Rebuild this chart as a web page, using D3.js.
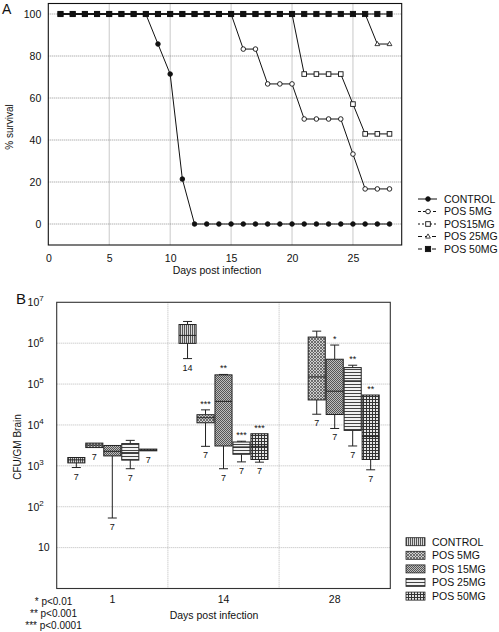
<!DOCTYPE html>
<html><head><meta charset="utf-8">
<script src="https://cdn.jsdelivr.net/npm/d3@7"></script>
<style>
body{margin:0;background:#fff}
text{font-family:"Liberation Sans",Arial,Helvetica,sans-serif;fill:#111}
</style>
</head><body><svg id="c" width="499" height="632"></svg>
<script>
// ---------- Panel A data ----------
const daysA = [1,2,3,4,5,6,7,8,9,10,11,12,13,14,15,16,17,18,19,20,21,22,23,24,25,26,27,28];
const survControl = [100,100,100,100,100,100,100,100,85.7,71.4,21.4,0,0,0,0,0,0,0,0,0,0,0,0,0,0,0,0,0];
const survPos5   = [100,100,100,100,100,100,100,100,100,100,100,100,100,100,100,83.3,83.3,66.7,66.7,66.7,50,50,50,50,33.3,16.7,16.7,16.7];
const survPos15  = [100,100,100,100,100,100,100,100,100,100,100,100,100,100,100,100,100,100,100,100,71.4,71.4,71.4,71.4,57.1,42.9,42.9,42.9];
const survPos25  = [100,100,100,100,100,100,100,100,100,100,100,100,100,100,100,100,100,100,100,100,100,100,100,100,100,100,85.7,85.7];
const survPos50  = [100,100,100,100,100,100,100,100,100,100,100,100,100,100,100,100,100,100,100,100,100,100,100,100,100,100,100,100];
const seriesNamesA = ["CONTROL","POS 5MG","POS15MG","POS 25MG","POS 50MG"];
const xTicksA = [0,5,10,15,20,25];
const yTicksA = [0,20,40,60,80,100];

// ---------- Panel B data ----------
const daysB = ["1","14","28"];
const groupsB = ["CONTROL","POS 5MG","POS 15MG","POS 25MG","POS 50MG"];
// [min, q1, median, q3, max]
const day1Stats  = [[910,1180,1400,1600,1600],[2800,2800,3200,3600,3600],[53,1750,2270,3150,3150],[850,1380,2100,3500,4200],[2330,2330,2450,2570,2570]];
const day14Stats = [[420000,990000,1550000,2860000,3400000],[3000,11300,15000,17800,23400],[850,3060,37800,168000,172000],[1250,1920,2900,3830,4000],[1230,1430,3000,6100,6100]];
const day28Stats = [null,[18300,40900,150000,1410000,1970000],[8200,18000,67000,405000,900000],[3060,7360,120000,253000,289000],[800,1430,5200,54000,54000]];
const day1N  = [7,7,7,7,7];
const day14N = [14,7,7,7,7];
const day28N = [null,7,7,7,7];
const day1Sig  = ["","","","",""];
const day14Sig = ["","***","**","***","***"];
const day28Sig = ["","","*","**","**"];
const yTicksB = [10,100,1000,10000,100000,1000000,10000000];
const footnotes = ["* p<0.01","** p<0.001","*** p<0.0001"];

const svg = d3.select("#c");
const defs = svg.append("defs");

// ---------- patterns ----------
function pat(id, size, bg, draw){
  const p = defs.append("pattern").attr("id",id).attr("patternUnits","userSpaceOnUse")
    .attr("width",size).attr("height",size);
  p.append("rect").attr("width",size).attr("height",size).attr("fill",bg);
  draw(p);
}
pat("pControl",2,"#d8d8d8",p=>p.append("rect").attr("x",0).attr("y",0).attr("width",1).attr("height",2).attr("fill","#555"));
pat("p5",3,"#cfcfcf",p=>{p.append("path").attr("d","M0,0L3,3M3,0L0,3").attr("stroke","#555").attr("stroke-width",0.8);});
pat("p15",2,"#bdbdbd",p=>{p.append("rect").attr("width",1).attr("height",1).attr("fill","#555");p.append("rect").attr("x",1).attr("y",1).attr("width",1).attr("height",1).attr("fill","#555");});
pat("p25",3,"#f2f2f2",p=>p.append("rect").attr("x",0).attr("y",0).attr("width",3).attr("height",1).attr("fill","#444"));
pat("p50",3,"#e6e6e6",p=>{p.append("rect").attr("width",3).attr("height",1).attr("fill","#333");p.append("rect").attr("width",1).attr("height",3).attr("fill","#333");});
const fillsB = ["url(#pControl)","url(#p5)","url(#p15)","url(#p25)","url(#p50)"];

// ================= PANEL A =================
const A = {l:48.3, r:401.7, t:3.5, b:245};
const xA = d3.scaleLinear().domain([0,29]).range([A.l,A.r]);
const yA = d3.scaleLinear().domain([-10,105]).range([A.b,A.t]);
const gA = svg.append("g");

// grid
gA.selectAll(".gx").data(xTicksA.filter(d=>d>0)).join("line")
  .attr("x1",d=>xA(d)).attr("x2",d=>xA(d)).attr("y1",A.t).attr("y2",A.b)
  .attr("stroke","#777").attr("stroke-width",0.8).attr("stroke-dasharray","1,1");
gA.selectAll(".gy").data(yTicksA).join("line")
  .attr("x1",A.l).attr("x2",A.r).attr("y1",d=>yA(d)).attr("y2",d=>yA(d))
  .attr("stroke","#777").attr("stroke-width",0.8).attr("stroke-dasharray","1,1");
gA.append("rect").attr("x",A.l).attr("y",A.t).attr("width",A.r-A.l).attr("height",A.b-A.t)
  .attr("fill","none").attr("stroke","#111").attr("stroke-width",1.1);

// axes (labels only)
const axXA = gA.append("g").attr("transform",`translate(0,${A.b})`)
  .call(d3.axisBottom(xA).tickValues(xTicksA).tickSize(0).tickPadding(10));
axXA.select(".domain").remove();
axXA.selectAll("text").attr("font-size",10.5).attr("font-family","Liberation Sans, Arial, sans-serif").attr("fill","#111");
const axYA = gA.append("g").attr("transform",`translate(${A.l},0)`)
  .call(d3.axisLeft(yA).tickValues(yTicksA).tickSize(0).tickPadding(7));
axYA.select(".domain").remove();
axYA.selectAll("text").attr("font-size",10.5).attr("font-family","Liberation Sans, Arial, sans-serif").attr("fill","#111");

gA.append("text").attr("x",217).attr("y",274).attr("text-anchor","middle").attr("font-size",10.5).text("Days post infection");
gA.append("text").attr("transform","translate(13,127) rotate(-90)").attr("text-anchor","middle").attr("font-size",10).text("% survival");
gA.append("text").attr("x",2).attr("y",14).attr("font-size",14).text("A");

const seriesA = [survControl,survPos5,survPos15,survPos25,survPos50];
const line = d3.line().x((d,i)=>xA(daysA[i])).y(d=>yA(d));
const markers = [
  {type:"circle", fill:"#111"},
  {type:"circle", fill:"#fff"},
  {type:"square", fill:"#fff", size:4.6},
  {type:"triangle", fill:"#fff"},
  {type:"square", fill:"#111", size:5.2}
];
function drawMarker(g, m, x, y){
  if(m.type==="circle") g.append("circle").attr("cx",x).attr("cy",y).attr("r",2.3).attr("fill",m.fill).attr("stroke","#111").attr("stroke-width",0.9);
  else if(m.type==="square") g.append("rect").attr("x",x-m.size/2).attr("y",y-m.size/2).attr("width",m.size).attr("height",m.size).attr("fill",m.fill).attr("stroke","#111").attr("stroke-width",0.9);
  else g.append("path").attr("d",`M${x},${y-2.6}L${x+2.4},${y+1.6}L${x-2.4},${y+1.6}Z`).attr("fill",m.fill).attr("stroke","#111").attr("stroke-width",0.8);
}
seriesA.forEach((s,k)=>{
  const g = gA.append("g");
  g.append("path").attr("d",line(s)).attr("fill","none").attr("stroke","#111").attr("stroke-width",1);
  s.forEach((v,i)=>drawMarker(g, markers[k], xA(daysA[i]), yA(v)));
});

// legend A
const dashes = [null,"3,2","2,2","4,3","4,3"];
seriesNamesA.forEach((n,k)=>{
  const y = 199 + k*12.5;
  const g = gA.append("g");
  g.append("line").attr("x1",418).attr("x2",437).attr("y1",y).attr("y2",y).attr("stroke","#111").attr("stroke-width",1)
    .attr("stroke-dasharray",dashes[k]);
  drawMarker(g, markers[k], 428, y);
  g.append("text").attr("x",444).attr("y",y+3.8).attr("font-size",10.5).text(n);
});

// ================= PANEL B =================
const B = {l:56.7, r:390.3, t:302.3, b:588.5};
const x0 = d3.scaleBand().domain(daysB).range([B.l,B.r]);
const x1 = d3.scaleBand().domain(groupsB).range([-44.5,44.5]).paddingInner(0.05);
const yB = d3.scaleLog().domain([1,1e7]).range([B.b,B.t]);
const gB = svg.append("g");

gB.selectAll(".gy").data(yTicksB.slice(0,-1)).join("line")
  .attr("x1",B.l).attr("x2",B.r).attr("y1",d=>yB(d)).attr("y2",d=>yB(d))
  .attr("stroke","#aaa").attr("stroke-width",0.8).attr("stroke-dasharray","1,1");
gB.selectAll(".gx").data(daysB.slice(1)).join("line")
  .attr("x1",d=>x0(d)).attr("x2",d=>x0(d)).attr("y1",B.t).attr("y2",B.b)
  .attr("stroke","#aaa").attr("stroke-width",0.8).attr("stroke-dasharray","1,1");
gB.append("rect").attr("x",B.l).attr("y",B.t).attr("width",B.r-B.l).attr("height",B.b-B.t)
  .attr("fill","none").attr("stroke","#333").attr("stroke-width",1.1);

// y axis with superscripts
const axYB = gB.append("g").attr("transform",`translate(${B.l},0)`)
  .call(d3.axisLeft(yB).tickValues(yTicksB).tickSize(0).tickPadding(7).tickFormat(""));
axYB.select(".domain").remove();
axYB.selectAll(".tick text").each(function(d){
  const t = d3.select(this).attr("font-size",10.5).attr("font-family","Liberation Sans, Arial, sans-serif").attr("fill","#111");
  const e = Math.round(Math.log10(d));
  if(e===1){ t.text("10"); }
  else { t.attr("x",-13); t.append("tspan").text("10"); t.append("tspan").attr("dy",-5).attr("font-size",8).text(e); }
});
const axXB = gB.append("g").attr("transform",`translate(0,${B.b})`)
  .call(d3.axisBottom(x0).tickSize(0).tickPadding(7));
axXB.select(".domain").remove();
axXB.selectAll("text").attr("font-size",10.5).attr("font-family","Liberation Sans, Arial, sans-serif").attr("fill","#111");

gB.append("text").attr("x",214).attr("y",619).attr("text-anchor","middle").attr("font-size",10.5).text("Days post infection");
gB.append("text").attr("transform","translate(21,447) rotate(-90)").attr("text-anchor","middle").attr("font-size",10).text("CFU/GM Brain");
gB.append("text").attr("x",16).attr("y",304).attr("font-size",15).text("B");
footnotes.forEach((f,i)=>gB.append("text").attr("x",53.5).attr("y",604.5+i*12.3).attr("text-anchor","middle").attr("font-size",10).text(f));

const statsB = [day1Stats,day14Stats,day28Stats];
const nB = [day1N,day14N,day28N];
const sigB = [day1Sig,day14Sig,day28Sig];
daysB.forEach((day,di)=>{
  const cx0 = x0(day)+x0.bandwidth()/2;
  groupsB.forEach((grp,gi)=>{
    const s = statsB[di][gi];
    if(!s) return;
    const bx = cx0 + x1(grp), bw = x1.bandwidth(), cx = bx+bw/2;
    const g = gB.append("g");
    const [mn,q1,md,q3,mx] = s;
    const capW = 9;
    if(mn<q1){
      g.append("line").attr("x1",cx).attr("x2",cx).attr("y1",yB(q1)).attr("y2",yB(mn)).attr("stroke","#222").attr("stroke-width",1);
      g.append("line").attr("x1",cx-capW/2).attr("x2",cx+capW/2).attr("y1",yB(mn)).attr("y2",yB(mn)).attr("stroke","#222").attr("stroke-width",1);
    }
    if(mx>q3){
      g.append("line").attr("x1",cx).attr("x2",cx).attr("y1",yB(q3)).attr("y2",yB(mx)).attr("stroke","#222").attr("stroke-width",1);
      g.append("line").attr("x1",cx-capW/2).attr("x2",cx+capW/2).attr("y1",yB(mx)).attr("y2",yB(mx)).attr("stroke","#222").attr("stroke-width",1);
    }
    const h = Math.max(yB(q1)-yB(q3),1.5);
    g.append("rect").attr("x",bx).attr("y",yB(q3)).attr("width",bw).attr("height",h)
      .attr("fill",fillsB[gi]).attr("stroke","#222").attr("stroke-width",1);
    g.append("line").attr("x1",bx).attr("x2",bx+bw).attr("y1",yB(md)).attr("y2",yB(md)).attr("stroke","#222").attr("stroke-width",1);
    g.append("text").attr("x",cx).attr("y",yB(mn)+12).attr("text-anchor","middle").attr("font-size",9).text(nB[di][gi]);
    if(sigB[di][gi]) g.append("text").attr("x",cx).attr("y",yB(mx)-3).attr("text-anchor","middle").attr("font-size",9).text(sigB[di][gi]);
  });
});

// legend B
groupsB.forEach((n,k)=>{
  const y = 541.7 + k*13.6;
  gB.append("rect").attr("x",406).attr("y",y-4).attr("width",19).attr("height",8).attr("fill",fillsB[k]).attr("stroke","#222").attr("stroke-width",0.8);
  gB.append("text").attr("x",432).attr("y",y+3.8).attr("font-size",10.5).text(n);
});
</script></body></html>
